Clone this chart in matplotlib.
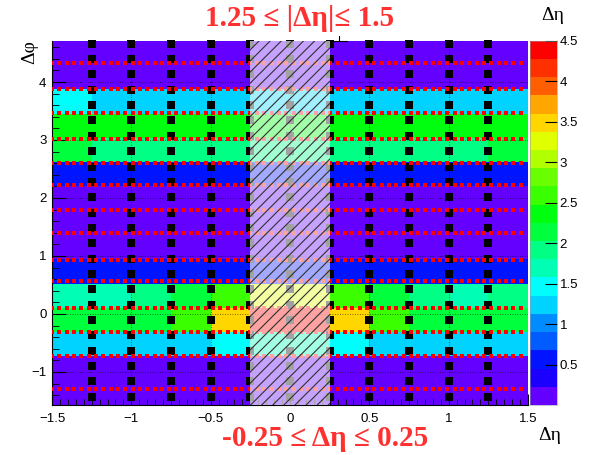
import colorsys
import numpy as np
import matplotlib
matplotlib.use("Agg")
import matplotlib.pyplot as plt
from matplotlib.colors import ListedColormap, BoundaryNorm
from matplotlib.patches import Rectangle
from matplotlib.ticker import MultipleLocator, FuncFormatter

plt.rcParams['font.family'] = ['Liberation Sans', 'DejaVu Sans']
plt.rcParams['hatch.linewidth'] = 0.8

# binning: 12 bins in d-eta, 15 bins in d-phi
eta_edges = np.linspace(-1.5, 1.5, 13)
phi_edges = np.linspace(-np.pi / 2, 3 * np.pi / 2, 16)

# bin contents, one list per d-phi row (bottom row first), 12 d-eta bins each
row_00 = [0.11, 0.11, 0.11, 0.11, 0.11, 0.11, 0.11, 0.11, 0.11, 0.11, 0.11, 0.11]
row_01 = [0.11, 0.11, 0.11, 0.11, 0.11, 0.11, 0.11, 0.11, 0.11, 0.11, 0.11, 0.11]
row_02 = [1.24, 1.24, 1.24, 1.24, 1.46, 1.69, 1.69, 1.46, 1.24, 1.24, 1.24, 1.24]
row_03 = [2.14, 2.14, 2.14, 2.59, 3.49, 4.39, 4.39, 3.49, 2.59, 2.14, 2.14, 2.14]
row_04 = [1.69, 1.69, 1.91, 2.14, 2.59, 3.26, 3.26, 2.59, 2.14, 1.91, 1.69, 1.91]
row_05 = [0.56, 0.56, 0.56, 0.56, 0.56, 0.56, 0.56, 0.56, 0.56, 0.56, 0.56, 0.56]
row_06 = [0.11, 0.11, 0.11, 0.11, 0.11, 0.11, 0.11, 0.11, 0.11, 0.11, 0.11, 0.11]
row_07 = [0.11, 0.11, 0.11, 0.11, 0.11, 0.11, 0.11, 0.11, 0.11, 0.11, 0.11, 0.11]
row_08 = [0.11, 0.11, 0.11, 0.11, 0.11, 0.11, 0.11, 0.11, 0.11, 0.11, 0.11, 0.11]
row_09 = [0.56, 0.56, 0.56, 0.56, 0.56, 0.56, 0.56, 0.56, 0.56, 0.56, 0.56, 0.56]
row_10 = [2.14, 1.91, 1.91, 1.91, 1.91, 1.91, 1.91, 1.91, 1.91, 1.91, 1.91, 2.14]
row_11 = [2.36, 2.36, 2.36, 2.36, 2.36, 2.36, 2.36, 2.36, 2.36, 2.36, 2.36, 2.36]
row_12 = [1.46, 1.24, 1.24, 1.24, 1.24, 1.24, 1.24, 1.24, 1.24, 1.24, 1.24, 1.24]
row_13 = [0.11, 0.11, 0.11, 0.11, 0.11, 0.11, 0.11, 0.11, 0.11, 0.11, 0.11, 0.11]
row_14 = [0.11, 0.11, 0.11, 0.11, 0.11, 0.11, 0.11, 0.11, 0.11, 0.11, 0.11, 0.11]

z_min, z_max, n_cont = 0.0, 4.5, 20

# marker guides: black columns at d-eta bin edges, red rows along d-phi
black_eta = [-1.25, -1.0, -0.75, -0.5, -0.25, 0.0, 0.25, 0.5, 0.75, 1.0, 1.25]
red_phi = [4.32, 3.88, 3.47, 3.02, 2.60, 2.23, 1.80, 1.39, 0.93, 0.56, 0.11, -0.32, -0.72, -1.30]
black_phi = np.linspace(-1.43, 4.66, 24)
red_eta = np.arange(-1.5, 1.47, 3 / 65)

# old ROOT "pretty" palette (violet -> red), 20 contour colours
pal_idx = [min(int(0.01 + (k + 1) * 2.5), 49) for k in range(n_cont)]
pal = [colorsys.hls_to_rgb((280 - (i + 1) * 5.6) / 360, 0.5, 1.0) for i in pal_idx]
cmap = ListedColormap(pal)
norm = BoundaryNorm(np.linspace(z_min, z_max, n_cont + 1), n_cont)

Z = np.array([row_00, row_01, row_02, row_03, row_04, row_05, row_06, row_07,
              row_08, row_09, row_10, row_11, row_12, row_13, row_14])

fig = plt.figure(figsize=(5.92, 4.55), dpi=100)
ax = fig.add_axes([52 / 592, 50 / 455, 476 / 592, 364.3 / 455])
cax = fig.add_axes([530 / 592, 50 / 455, 27 / 592, 364.3 / 455])

mesh = ax.pcolormesh(eta_edges, phi_edges, Z, cmap=cmap, norm=norm, zorder=1)

ax.set_xlim(-1.5, 1.5)
ax.set_ylim(-np.pi / 2, 3 * np.pi / 2)

# grid at major ticks
for gx in [-1.0, -0.5, 0.0, 0.5, 1.0]:
    ax.axvline(gx, color='k', lw=0.6, ls=(0, (1, 2)), alpha=0.7, zorder=2)
for gy in [-1, 0, 1, 2, 3, 4]:
    ax.axhline(gy, color='k', lw=0.6, ls=(0, (1, 2)), alpha=0.7, zorder=2)

# black square columns and red square rows
for xe in black_eta:
    ax.plot(np.full(len(black_phi), xe), black_phi, ls='none', marker='s',
            ms=5.3, color='k', mew=0, zorder=3, clip_on=False)
for yp in red_phi:
    ax.plot(red_eta, np.full(len(red_eta), yp), ls='none', marker='s',
            ms=3.5, color='#ff0000', mew=0, zorder=3)

# highlighted |d-eta| < 0.25 band
ax.add_patch(Rectangle((-0.25, -np.pi / 2), 0.5, 2 * np.pi, facecolor='white',
                       edgecolor='none', alpha=0.64, zorder=5))
ax.add_patch(Rectangle((-0.25, -np.pi / 2), 0.5, 2 * np.pi, fill=False,
                       hatch='///', edgecolor='#303030', lw=0, zorder=6))
ax.plot([0.28, 0.36], [4.70, 4.70], color='k', lw=0.8, clip_on=False, zorder=7)
ax.plot([0.31, 0.31], [4.70, 4.80], color='k', lw=0.8, clip_on=False, zorder=7)

minus_fmt = FuncFormatter(lambda v, p: ('%g' % v).replace('-', '\u2212'))
ax.xaxis.set_major_locator(MultipleLocator(0.5))
ax.xaxis.set_minor_locator(MultipleLocator(0.05))
ax.yaxis.set_major_locator(MultipleLocator(1))
ax.yaxis.set_minor_locator(MultipleLocator(0.2))
ax.xaxis.set_major_formatter(minus_fmt)
ax.yaxis.set_major_formatter(minus_fmt)
ax.tick_params(axis='x', which='major', direction='in', length=8, width=0.8,
               labelsize=9.5, pad=6, top=False)
ax.tick_params(axis='x', which='minor', direction='in', length=4, width=0.6, top=False)
ax.tick_params(axis='y', which='major', direction='in', length=10, width=0.8,
               labelsize=9.5, pad=4, right=False)
ax.tick_params(axis='y', which='minor', direction='in', length=5, width=0.6, right=False)
for s in ['top', 'right']:
    ax.spines[s].set_visible(False)
for s in ['left', 'bottom']:
    ax.spines[s].set_linewidth(0.8)

cb = fig.colorbar(mesh, cax=cax, ticks=np.arange(0.5, 4.51, 0.5))
cb.ax.yaxis.set_major_formatter(minus_fmt)
cb.ax.tick_params(direction='in', length=9, width=0.8, labelsize=9.5, pad=2)
cb.ax.minorticks_off()
cb.outline.set_linewidth(0.4)
cb.outline.set_edgecolor('#999999')

greek = ['Liberation Serif', 'DejaVu Serif']
fig.text(300 / 592, 1 - 18 / 455, '1.25 \u2264 |\u0394\u03b7|\u2264 1.5', color='#ff3030',
         fontsize=21, fontweight='bold', family=greek, ha='center', va='center')
fig.text(325 / 592, 1 - 438 / 455, '-0.25 \u2264 \u0394\u03b7 \u2264 0.25', color='#ff3030',
         fontsize=21, fontweight='bold', family=greek, ha='center', va='center')
fig.text(553 / 592, 1 - 16 / 455, '\u0394\u03b7', fontsize=14, family=greek,
         ha='center', va='center')
fig.text(550 / 592, 1 - 435 / 455, '\u0394\u03b7', fontsize=14, family=greek,
         ha='center', va='center')
fig.text(30 / 592, 1 - 52 / 455, '\u0394\u03c6', fontsize=14, family=greek,
         ha='center', va='center', rotation=90)

fig.savefig('out.png', dpi=100)
